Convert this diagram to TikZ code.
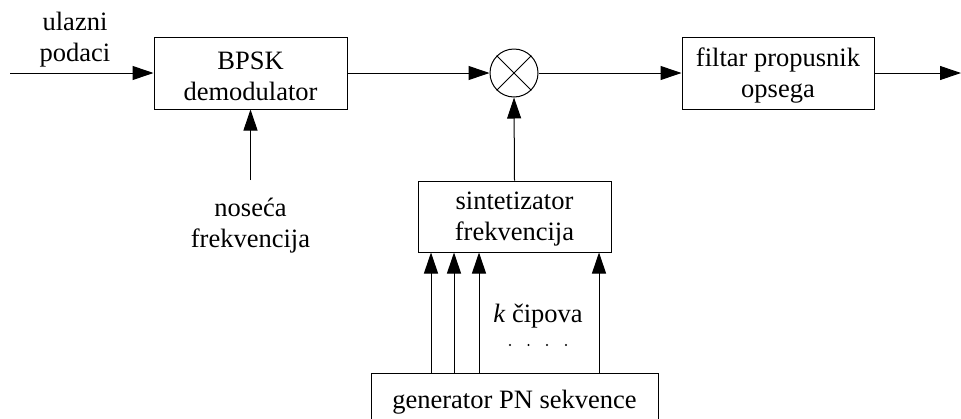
\documentclass[tikz,border=0pt]{standalone}
\usepackage{fontspec}
\setmainfont{Liberation Serif}
\usetikzlibrary{arrows.meta}
\begin{document}
\begin{tikzpicture}[x=1pt,y=-1pt,
  line width=1pt,
  every node/.style={font=\fontsize{26.5}{31}\selectfont},
  blockbox/.style={draw,rectangle,inner sep=0pt},
  arr/.style={-{Triangle[length=21pt,width=14pt]}},
  lbl/.style={align=center,inner sep=0pt}]
\clip (0,0) rectangle (961,418);
\node[blockbox,minimum width=193pt,minimum height=72pt] (bpsk) at (250.5,73) {};
\node[lbl] (bpsktext) at (250.5,76) {BPSK\\demodulator};
\node[draw,circle,minimum size=48pt,inner sep=0pt] (mult) at (514,73) {};
\draw (mult.north west) -- (mult.south east) (mult.north east) -- (mult.south west);
\node[blockbox,minimum width=192pt,minimum height=72pt] (filt) at (778,73) {};
\node[lbl] (filttext) at (778,75.5) {filtar propusnik\\opsega};
\node[blockbox,minimum width=193pt,minimum height=71pt] (synth) at (514.5,216.5) {};
\node[lbl] (synthtext) at (514.5,219) {sintetizator\\frekvencija};
\node[blockbox,minimum width=287pt,minimum height=60pt,anchor=north] (gen) at (514.5,373) {};
\node[lbl] (gentext) at (514.5,402) {generator PN sekvence};
\node[lbl] (in) at (75,40) {ulazni\\podaci};
\node[lbl] (nos) at (250.5,226) {nose\'ca\\frekvencija};
\node[lbl,anchor=base] (kcip) at (538,322) {\textit{k} \v{c}ipova};
\foreach \i/\x in {1/510,2/528.5,3/547,4/566}
  \node[circle,fill,inner sep=0pt,minimum size=2.2pt] (d\i) at (\x,345) {};
\coordinate (inl) at (10,73);
\coordinate (outr) at (961,73);
\coordinate (nosu) at (250.5,180);
\draw[arr] (inl) -- (bpsk.west);
\draw[arr] (bpsk.east) -- (mult.west);
\draw[arr] (mult.east) -- (filt.west);
\draw[arr] (filt.east) -- (outr);
\draw[arr] (nosu) -- (bpsk.south);
\draw[arr] (synth.north) -- (mult.south);
\foreach \x in {431,454,479,599}{
  \coordinate (c\x) at (\x,0);
  \draw[arr] (c\x |- gen.north) -- (c\x |- synth.south);
}
\end{tikzpicture}
\end{document}
